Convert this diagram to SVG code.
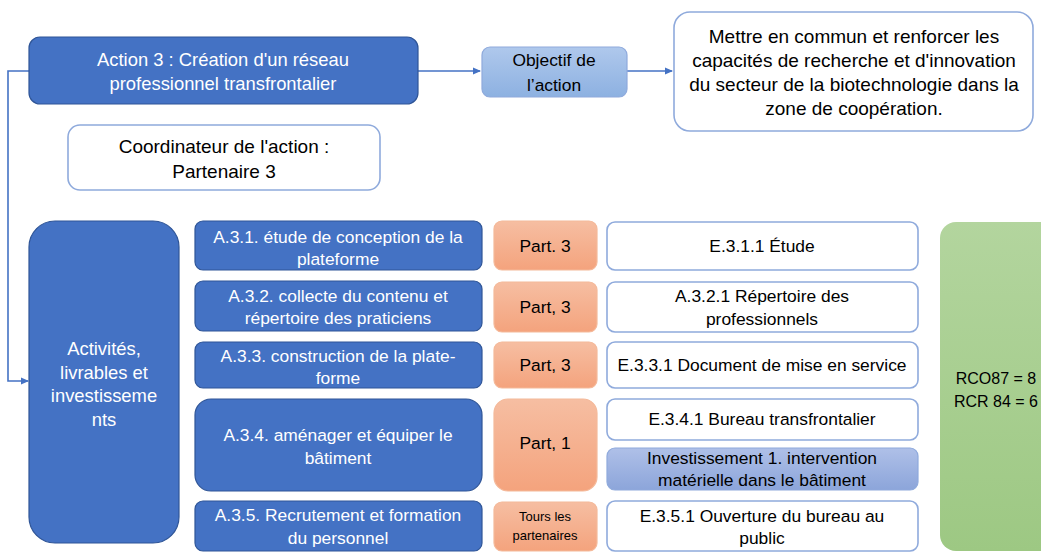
<svg xmlns="http://www.w3.org/2000/svg" width="1041" height="552" viewBox="0 0 1041 552">
<defs>
<linearGradient id="gObj" x1="0" y1="0" x2="0" y2="1"><stop offset="0" stop-color="#AFC8EC"/><stop offset="1" stop-color="#8DB1E1"/></linearGradient>
<linearGradient id="gOr" x1="0" y1="0" x2="0" y2="1"><stop offset="0" stop-color="#F6BEA2"/><stop offset="1" stop-color="#F4A37D"/></linearGradient>
<linearGradient id="gInv" x1="0" y1="0" x2="0" y2="1"><stop offset="0" stop-color="#AFC0E8"/><stop offset="1" stop-color="#8CA5DA"/></linearGradient>
<linearGradient id="gGr" x1="0" y1="0" x2="0" y2="1"><stop offset="0" stop-color="#B3D59E"/><stop offset="1" stop-color="#9DC883"/></linearGradient>
<marker id="arr" markerWidth="8" markerHeight="8" refX="7" refY="4" orient="auto" markerUnits="userSpaceOnUse"><path d="M0,0.5 L8,4 L0,7.5 z" fill="#4472C4"/></marker>
</defs>
<style>
text{font-family:"Liberation Sans",Arial,sans-serif;text-anchor:middle}
.blue{fill:#4472C4;stroke:#2F5597;stroke-width:1.2}
.wht{fill:#FFFFFF;stroke:#8FAADC;stroke-width:1.6}
.org{fill:url(#gOr);stroke:#F4B99A;stroke-width:1.2}
.tw{fill:#FFFFFF;font-size:17.4px}
.tb{fill:#000000;font-size:17.4px}
.big{font-size:18.4px}
.lg{font-size:19px}
.conn{fill:none;stroke:#4472C4;stroke-width:1.6}
</style>
<g id="connectors">
<path class="conn" d="M418,71 L480,71" marker-end="url(#arr)"/>
<path class="conn" d="M627,71 L672,71" marker-end="url(#arr)"/>
<path class="conn" d="M29,71 L8,71 L8,381 L28,381" marker-end="url(#arr)"/>
</g>
<g id="action3"><rect class="blue" x="29" y="37" width="389" height="67" rx="11"/>
<text class="tw big" x="223" y="66">Action 3 : Création d'un réseau</text>
<text class="tw big" x="223" y="90">professionnel transfrontalier</text></g>
<g id="objectif"><rect x="482" y="47" width="145" height="50" rx="8" fill="url(#gObj)" stroke="#8FAADC" stroke-width="1.2"/>
<text class="tb" style="font-size:17.4px" x="554" y="66">Objectif de</text>
<text class="tb" style="font-size:17.4px" x="554" y="91">l’action</text></g>
<g id="mettre"><rect class="wht" x="674" y="12" width="359" height="119" rx="16"/>
<text class="tb lg" x="854" y="43">Mettre en commun et renforcer les</text>
<text class="tb lg" x="854" y="67">capacités de recherche et d'innovation</text>
<text class="tb lg" x="854" y="91">du secteur de la biotechnologie dans la</text>
<text class="tb lg" x="854" y="115">zone de coopération.</text></g>
<g id="coordinateur"><rect class="wht" x="68" y="125" width="312" height="65" rx="12"/>
<text class="tb lg" x="224" y="153">Coordinateur de l'action :</text>
<text class="tb lg" x="224" y="178">Partenaire 3</text></g>
<g id="activites"><rect class="blue" x="29" y="221" width="150" height="322" rx="26"/>
<text class="tw big" x="104" y="355">Activités,</text>
<text class="tw big" x="104" y="379">livrables et</text>
<text class="tw big" x="104" y="402">investisseme</text>
<text class="tw big" x="104" y="426">nts</text></g>
<g id="a31"><rect class="blue" x="195" y="221" width="287" height="49" rx="8"/>
<text class="tw" x="338" y="243">A.3.1. étude de conception de la</text>
<text class="tw" x="338" y="265">plateforme</text></g>
<g id="a32"><rect class="blue" x="195" y="281" width="287" height="50" rx="8"/>
<text class="tw" x="338" y="302">A.3.2. collecte du contenu et</text>
<text class="tw" x="338" y="324">répertoire des praticiens</text></g>
<g id="a33"><rect class="blue" x="195" y="342" width="287" height="46" rx="8"/>
<text class="tw" x="338" y="362">A.3.3. construction de la plate-</text>
<text class="tw" x="338" y="384">forme</text></g>
<g id="a34"><rect class="blue" x="195" y="399" width="287" height="92" rx="16"/>
<text class="tw" x="338" y="441">A.3.4. aménager et équiper le</text>
<text class="tw" x="338" y="464">bâtiment</text></g>
<g id="a35"><rect class="blue" x="195" y="501" width="287" height="50" rx="8"/>
<text class="tw" x="338" y="521">A.3.5. Recrutement et formation</text>
<text class="tw" x="338" y="544">du personnel</text></g>
<g id="p1"><rect class="org" x="494" y="221" width="103" height="49" rx="8"/>
<text class="tb" x="545" y="252">Part. 3</text></g>
<g id="p2"><rect class="org" x="494" y="282" width="103" height="50" rx="8"/>
<text class="tb" x="545" y="313">Part, 3</text></g>
<g id="p3"><rect class="org" x="494" y="342" width="103" height="46" rx="8"/>
<text class="tb" x="545" y="371">Part, 3</text></g>
<g id="p4"><rect class="org" x="494" y="399" width="103" height="92" rx="14"/>
<text class="tb" x="545" y="449">Part, 1</text></g>
<g id="p5"><rect class="org" x="494" y="502" width="103" height="49" rx="8"/>
<text class="tb" style="font-size:13px" x="545" y="521">Tours les</text>
<text class="tb" style="font-size:13px" x="545" y="540">partenaires</text></g>
<g id="e311"><rect class="wht" x="607" y="222" width="311" height="48" rx="8"/>
<text class="tb" x="762" y="252">E.3.1.1 Étude</text></g>
<g id="a321"><rect class="wht" x="607" y="282" width="311" height="50" rx="8"/>
<text class="tb" x="762" y="302">A.3.2.1 Répertoire des</text>
<text class="tb" x="762" y="325">professionnels</text></g>
<g id="e331"><rect class="wht" x="607" y="342" width="311" height="46" rx="8"/>
<text class="tb" x="762" y="371">E.3.3.1 Document de mise en service</text></g>
<g id="e341"><rect class="wht" x="607" y="399" width="311" height="41" rx="8"/>
<text class="tb" x="762" y="425">E.3.4.1 Bureau transfrontalier</text></g>
<g id="inv1"><rect x="607" y="448" width="311" height="42" rx="8" fill="url(#gInv)" stroke="#8FAADC" stroke-width="1.2"/>
<text class="tb" x="762" y="464">Investissement 1. intervention</text>
<text class="tb" x="762" y="486">matérielle dans le bâtiment</text></g>
<g id="e351"><rect class="wht" x="607" y="501" width="311" height="50" rx="8"/>
<text class="tb" x="762" y="522">E.3.5.1 Ouverture du bureau au</text>
<text class="tb" x="762" y="544">public</text></g>
<g id="indicateurs"><rect x="940" y="222" width="115" height="329" rx="16" fill="url(#gGr)"/>
<text class="tb" style="font-size:16px" x="996" y="384">RCO87 = 8</text>
<text class="tb" style="font-size:16px" x="996" y="407">RCR 84 = 6</text></g>
</svg>
